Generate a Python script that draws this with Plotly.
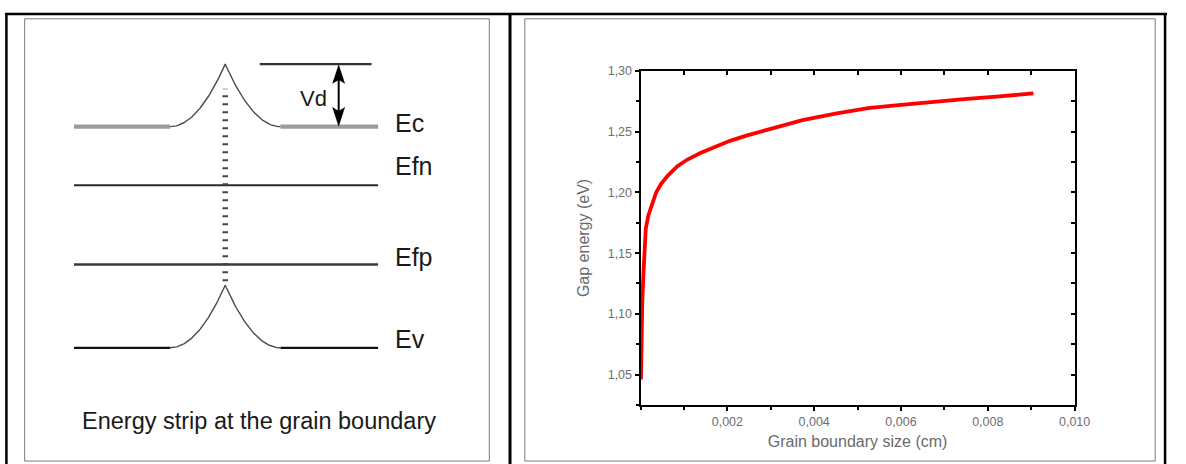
import numpy as np
import plotly.graph_objects as go

W, H = 1186, 464

# ---------------- right panel: measured curve ----------------
grain_size_cm = [0.00001, 0.00002, 0.00004, 0.00007, 0.00012, 0.00018, 0.00026,
                 0.00036, 0.00047, 0.00062, 0.00085, 0.00108, 0.00138, 0.00176,
                 0.00206, 0.00244, 0.00282, 0.00327, 0.00373, 0.00449, 0.00524,
                 0.00600, 0.00676, 0.00752, 0.00827, 0.00895, 0.00905]
gap_energy_ev = [1.046, 1.085, 1.110, 1.135, 1.170, 1.181, 1.1906,
                 1.200, 1.2068, 1.2135, 1.2216, 1.2271, 1.2325, 1.2384,
                 1.2425, 1.2468, 1.2506, 1.2546, 1.2595, 1.2649, 1.2695,
                 1.2722, 1.2749, 1.2771, 1.2792, 1.2811, 1.2815]
x_tick_vals = [0.002, 0.004, 0.006, 0.008, 0.010]
x_tick_text = ["0,002", "0,004", "0,006", "0,008", "0,010"]
y_tick_vals = [1.05, 1.10, 1.15, 1.20, 1.25, 1.30]
y_tick_text = ["1,05", "1,10", "1,15", "1,20", "1,25", "1,30"]

# ---------------- left panel: band diagram (arbitrary energy units) ----------------
level_names = ["Ec", "Efn", "Efp", "Ev"]
level_energy = [224.5, 165.0, 84.5, 0.0]
barrier_vd = 63.5
caption = "Energy strip at the grain boundary"

NARROW = "Liberation Sans Narrow, Liberation Sans, Arial, sans-serif"
SANS = "Liberation Sans, Arial, sans-serif"


def fx(p):
    return p / W


def fy(p):
    return 1 - p / H


fig = go.Figure()

# ---- right chart curve ----
fig.add_trace(go.Scatter(x=grain_size_cm, y=gap_energy_ev, mode="lines",
                         line=dict(color="#ff0000", width=3.8),
                         showlegend=False, hoverinfo="skip"))
fig.add_trace(go.Scatter(x=[], y=[], xaxis="x2", yaxis="y2", showlegend=False))

# ---- band diagram ----
half_w = 56.0
band_left, band_right = -153.3, 155.0
d = np.linspace(-half_w, half_w, 121)
bend = barrier_vd * (1 - np.abs(d) / half_w) ** 2

level_style = {
    "Ec": dict(color="#9c9c9c", width=4.2),
    "Efn": dict(color="#2a2a2a", width=2.2),
    "Efp": dict(color="#3a3a3a", width=2.6),
    "Ev": dict(color="#111111", width=2.2),
}
bent = {"Ec", "Ev"}


def add_line(xs, ys, style):
    fig.add_trace(go.Scatter(x=xs, y=ys, mode="lines", line=style,
                             xaxis="x3", yaxis="y3", showlegend=False,
                             hoverinfo="skip"))


for name, e in zip(level_names, level_energy):
    st = level_style[name]
    if name in bent:
        add_line([band_left, -half_w], [e, e], st)
        add_line([half_w, band_right], [e, e], st)
        add_line(d, e + bend, dict(color="#4a4a4a", width=1.4))
    else:
        add_line([band_left, band_right], [e, e], st)

# grain-boundary dotted line
add_line([0, 0], [level_energy[3] + barrier_vd + 4, level_energy[0] + barrier_vd - 25],
         dict(color="#444444", width=5.5, dash="2px,6px"))

# barrier reference line (top of Vd)
top_e = level_energy[0] + barrier_vd
add_line([35, 148.4], [top_e, top_e], dict(color="#333333", width=2.4))

# Vd double arrow
ax_x = 115
add_line([ax_x, ax_x], [level_energy[0] + 10, top_e - 10], dict(color="black", width=2))
hw, hl = 6.5, 20
shapes = []
shapes.append(dict(type="path", xref="x3", yref="y3",
                   path=f"M {ax_x},{top_e} L {ax_x - hw},{top_e - hl} L {ax_x},{top_e - hl + 4} L {ax_x + hw},{top_e - hl} Z",
                   fillcolor="black", line=dict(width=0)))
ec = level_energy[0]
shapes.append(dict(type="path", xref="x3", yref="y3",
                   path=f"M {ax_x},{ec} L {ax_x - hw},{ec + hl} L {ax_x},{ec + hl - 4} L {ax_x + hw},{ec + hl} Z",
                   fillcolor="black", line=dict(width=0)))

# frames: outer table borders and inner boxes
frame_black = dict(color="black", width=2.5)
shapes += [
    dict(type="line", xref="paper", yref="paper", x0=fx(5), x1=fx(1183), y0=fy(7), y1=fy(7), line=frame_black),
    dict(type="line", xref="paper", yref="paper", x0=fx(6.5), x1=fx(6.5), y0=fy(6), y1=fy(464), line=frame_black),
    dict(type="line", xref="paper", yref="paper", x0=fx(517), x1=fx(517), y0=fy(6), y1=fy(464), line=dict(color="black", width=3)),
    dict(type="line", xref="paper", yref="paper", x0=fx(1181), x1=fx(1181), y0=fy(6), y1=fy(464), line=frame_black),
    dict(type="rect", xref="paper", yref="paper", x0=fx(25), x1=fx(496), y0=fy(12), y1=fy(461),
         line=dict(color="#7a7a7a", width=1)),
    dict(type="rect", xref="paper", yref="paper", x0=fx(532), x1=fx(1171), y0=fy(12), y1=fy(461),
         line=dict(color="#7a7a7a", width=1)),
]

annotations = []
label_offsets = [3.5, 20, 8, 8.5]
for name, e, off in zip(level_names, level_energy, label_offsets):
    annotations.append(dict(x=169.7, y=e + off, xref="x3", yref="y3", text=name,
                            showarrow=False, xanchor="left", yanchor="middle",
                            font=dict(family=NARROW, size=25, color="#1a1a1a")))
annotations.append(dict(x=73.7, y=top_e - 34.5, xref="x3", yref="y3", text="Vd",
                        showarrow=False, xanchor="left", yanchor="middle",
                        font=dict(family=NARROW, size=22, color="#1a1a1a")))
annotations.append(dict(x=34.2, y=-74.5, xref="x3", yref="y3", text=caption,
                        showarrow=False, xanchor="center", yanchor="middle",
                        font=dict(family=NARROW, size=23.5, color="#1a1a1a")))

xdom = [fx(649.3), fx(1089.3)]
ydom = [fy(404), fy(65)]
tick_font = dict(family=SANS, size=12.5, color="#6e6e6e")
title_font = dict(family=SANS, size=16, color="#6a6a6a")

fig.update_layout(
    width=W, height=H,
    margin=dict(l=0, r=0, t=0, b=0),
    paper_bgcolor="white", plot_bgcolor="rgba(0,0,0,0)",
    showlegend=False,
    xaxis=dict(domain=xdom, range=[0, 0.010], anchor="y", showgrid=False, zeroline=False,
               showline=True, linecolor="black", linewidth=2,
               ticks="outside", ticklen=4, tickwidth=1.5, tickcolor="black",
               tickvals=x_tick_vals, ticktext=x_tick_text, tickfont=tick_font,
               minor=dict(ticks="outside", ticklen=3, tickwidth=1.5, tickcolor="black",
                          tickmode="linear", tick0=0, dtick=0.001),
               title=dict(text="Grain boundary size (cm)", font=title_font, standoff=8)),
    yaxis=dict(domain=ydom, range=[1.025, 1.30], anchor="x", showgrid=False, zeroline=False,
               showline=True, linecolor="black", linewidth=2,
               ticks="outside", ticklen=4, tickwidth=1.5, tickcolor="black",
               tickvals=y_tick_vals, ticktext=y_tick_text, tickfont=tick_font,
               minor=dict(ticks="outside", ticklen=3, tickwidth=1.5, tickcolor="black",
                          tickmode="linear", tick0=1.025, dtick=0.025),
               title=dict(text="Gap energy (eV)", font=title_font, standoff=14)),
    xaxis2=dict(domain=xdom, range=[0, 0.010], anchor="y", overlaying="x", side="top",
                showgrid=False, zeroline=False, showline=True, linecolor="black", linewidth=2,
                ticks="inside", ticklen=4, tickwidth=1.5, tickcolor="black",
                tickmode="linear", tick0=0, dtick=0.001, showticklabels=False),
    yaxis2=dict(domain=ydom, range=[1.025, 1.30], anchor="x", overlaying="y", side="right",
                showgrid=False, zeroline=False, showline=True, linecolor="black", linewidth=2,
                ticks="inside", ticklen=4, tickwidth=1.5, tickcolor="black",
                tickmode="linear", tick0=1.025, dtick=0.025, showticklabels=False),
    xaxis3=dict(domain=[0, 1], range=[-228.3, 957.7], anchor="y3", visible=False, fixedrange=True),
    yaxis3=dict(domain=[0, 1], range=[-118, 346], anchor="x3", visible=False, fixedrange=True),
    shapes=shapes,
    annotations=annotations,
)

fig.write_html("out.html")
